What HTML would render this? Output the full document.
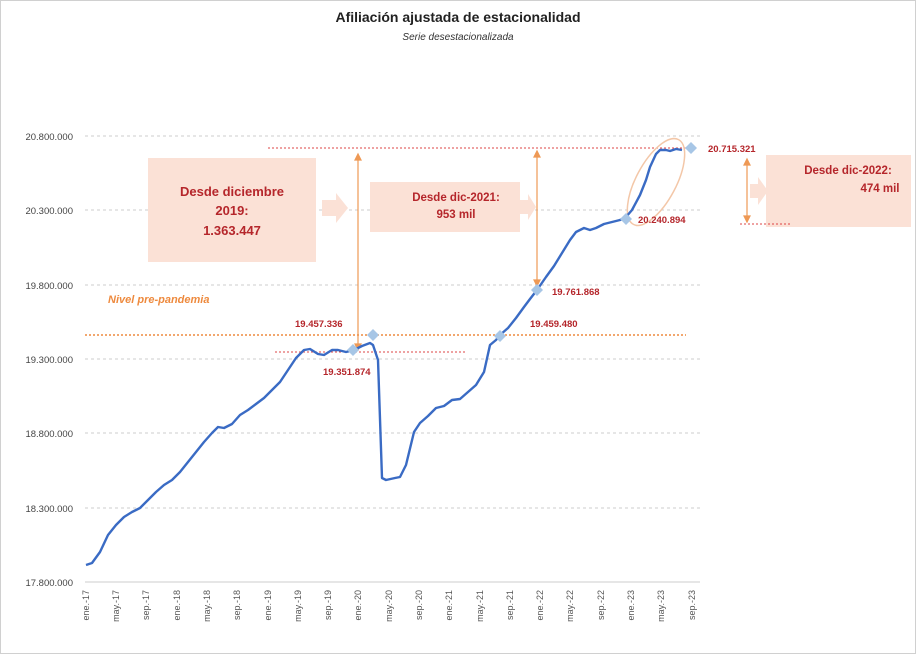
<!DOCTYPE html><html><head><style>body{margin:0;background:#fff}svg{display:block;font-family:"Liberation Sans",sans-serif}</style></head><body>
<svg width="916" height="654" viewBox="0 0 916 654">
<rect x="0.5" y="0.5" width="915" height="653" fill="#fff" stroke="#d0d0d0"/>
<text x="458" y="22" text-anchor="middle" font-size="14" font-weight="bold" fill="#222">Afiliación ajustada de estacionalidad</text>
<text x="458" y="40" text-anchor="middle" font-size="10" font-style="italic" fill="#333">Serie desestacionalizada</text>
<g stroke="#ccc" stroke-dasharray="3,3">
<line x1="85" y1="136" x2="700" y2="136"/><line x1="85" y1="210" x2="700" y2="210"/><line x1="85" y1="285" x2="700" y2="285"/><line x1="85" y1="359" x2="700" y2="359"/><line x1="85" y1="433" x2="700" y2="433"/><line x1="85" y1="508" x2="700" y2="508"/></g>
<line x1="85" y1="582" x2="700" y2="582" stroke="#ccc"/>
<g font-size="9.5" fill="#444" text-anchor="end">
<text x="73" y="140">20.800.000</text><text x="73" y="214">20.300.000</text><text x="73" y="289">19.800.000</text><text x="73" y="363">19.300.000</text><text x="73" y="437">18.800.000</text><text x="73" y="512">18.300.000</text><text x="73" y="586">17.800.000</text></g>
<g font-size="9" fill="#555" text-anchor="end" id="xl"></g>
<rect x="148" y="158" width="168" height="104" fill="#fbe1d6"/>
<text x="232" y="196" text-anchor="middle" font-size="13" font-weight="bold" fill="#b5262b">Desde diciembre</text>
<text x="232" y="215" text-anchor="middle" font-size="13" font-weight="bold" fill="#b5262b">2019:</text>
<text x="232" y="235" text-anchor="middle" font-size="13" font-weight="bold" fill="#b5262b">1.363.447</text>
<polygon points="322,200 336,200 336,193 348,208 336,223 336,216 322,216" fill="#fbe1d6"/>
<rect x="370" y="182" width="150" height="50" fill="#fbe1d6"/>
<polygon points="520,200 528,200 528,194 536,207 528,220 528,214 520,214" fill="#fbe1d6"/>
<text x="456" y="201" text-anchor="middle" font-size="11.5" font-weight="bold" fill="#b5262b">Desde dic-2021:</text>
<text x="456" y="218" text-anchor="middle" font-size="11.5" font-weight="bold" fill="#b5262b">953 mil</text>
<rect x="766" y="155" width="145" height="72" fill="#fbe1d6"/>
<polygon points="750,184 758,184 758,177 768,191 758,205 758,198 750,198" fill="#fbe1d6"/>
<text x="848" y="174" text-anchor="middle" font-size="11.5" font-weight="bold" fill="#b5262b">Desde dic-2022:</text>
<text x="880" y="192" text-anchor="middle" font-size="11.5" font-weight="bold" fill="#b5262b">474 mil</text>
<text x="108" y="303" font-size="11" font-style="italic" font-weight="bold" fill="#ee8a3e">Nivel pre-pandemia</text>
<g stroke="#d44" stroke-dasharray="2,2" stroke-width="1"><line x1="268" y1="148" x2="690" y2="148"/><line x1="275" y1="352" x2="465" y2="352"/><line x1="740" y1="224" x2="792" y2="224"/></g>
<line x1="85" y1="335" x2="686" y2="335" stroke="#ee8a3e" stroke-width="1.5" stroke-dasharray="2,2"/>
<g stroke="#ee9955" stroke-width="1.2" fill="#ee9955">
<line x1="358" y1="158" x2="358" y2="346"/><polygon points="355,160 361,160 358,154" /><polygon points="355,344 361,344 358,350"/>
<line x1="537" y1="155" x2="537" y2="282"/><polygon points="534,157 540,157 537,151"/><polygon points="534,280 540,280 537,286"/>
<line x1="747" y1="163" x2="747" y2="218"/><polygon points="744,165 750,165 747,159"/><polygon points="744,216 750,216 747,222"/></g>
<ellipse cx="656" cy="182" rx="20" ry="48" transform="rotate(28 656 182)" fill="none" stroke="#f3c7a8" stroke-width="1.5"/>
<polyline fill="none" stroke="#3a6bc4" stroke-width="2.4" stroke-linejoin="round" points="86,565 92,563 100,552 108,535 116,525 124,517 132,512 140,508 148,500 156,492 164,485 172,480 180,472 188,462 196,452 204,442 212,433 218,427 224,428 232,424 240,415 248,410 256,404 264,398 272,390 280,382 288,370 296,358 304,350 310,349 318,354 324,355 332,350 338,350 346,352 354,350 362,346 370,343 373,345 378,360 382,478 386,480 395,478 400,477 406,465 414,432 420,423 428,416 436,408 444,406 452,400 460,399 468,392 476,385 484,372 490,345 496,340 500,335 508,328 516,318 524,307 530,299 537,290 546,277 554,266 562,253 570,240 576,232 584,228 590,230 596,228 604,224 612,222 620,220 626,217 632,210 640,195 646,180 650,167 656,154 660,150 666,150 670,151 676,149 682,150"/>
<g fill="#a7c6e6"><polygon points="353,344 359,350 353,356 347,350"/><polygon points="373,329 379,335 373,341 367,335"/><polygon points="500,330 506,336 500,342 494,336"/><polygon points="537,284 543,290 537,296 531,290"/><polygon points="626,213 632,219 626,225 620,219"/><polygon points="691,142 697,148 691,154 685,148"/></g>
<g font-size="9.5" font-weight="bold" fill="#b5262b">
<text x="708" y="152">20.715.321</text><text x="638" y="223">20.240.894</text><text x="552" y="295">19.761.868</text><text x="530" y="327">19.459.480</text><text x="295" y="327">19.457.336</text><text x="323" y="375">19.351.874</text></g>
<g font-size="9" fill="#555">
<text transform="translate(89,590) rotate(-90)" text-anchor="end">ene.-17</text>
<text transform="translate(119,590) rotate(-90)" text-anchor="end">may.-17</text>
<text transform="translate(149,590) rotate(-90)" text-anchor="end">sep.-17</text>
<text transform="translate(180,590) rotate(-90)" text-anchor="end">ene.-18</text>
<text transform="translate(210,590) rotate(-90)" text-anchor="end">may.-18</text>
<text transform="translate(240,590) rotate(-90)" text-anchor="end">sep.-18</text>
<text transform="translate(271,590) rotate(-90)" text-anchor="end">ene.-19</text>
<text transform="translate(301,590) rotate(-90)" text-anchor="end">may.-19</text>
<text transform="translate(331,590) rotate(-90)" text-anchor="end">sep.-19</text>
<text transform="translate(361,590) rotate(-90)" text-anchor="end">ene.-20</text>
<text transform="translate(392,590) rotate(-90)" text-anchor="end">may.-20</text>
<text transform="translate(422,590) rotate(-90)" text-anchor="end">sep.-20</text>
<text transform="translate(452,590) rotate(-90)" text-anchor="end">ene.-21</text>
<text transform="translate(483,590) rotate(-90)" text-anchor="end">may.-21</text>
<text transform="translate(513,590) rotate(-90)" text-anchor="end">sep.-21</text>
<text transform="translate(543,590) rotate(-90)" text-anchor="end">ene.-22</text>
<text transform="translate(573,590) rotate(-90)" text-anchor="end">may.-22</text>
<text transform="translate(604,590) rotate(-90)" text-anchor="end">sep.-22</text>
<text transform="translate(634,590) rotate(-90)" text-anchor="end">ene.-23</text>
<text transform="translate(664,590) rotate(-90)" text-anchor="end">may.-23</text>
<text transform="translate(695,590) rotate(-90)" text-anchor="end">sep.-23</text>
</g>
</svg></body></html>
